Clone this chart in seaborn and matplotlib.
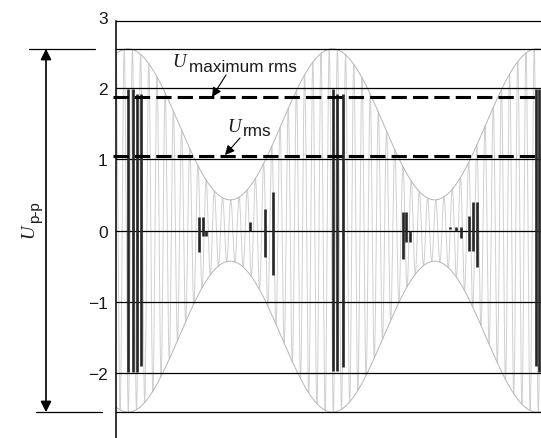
import numpy as np
import pandas as pd
import matplotlib
matplotlib.use("Agg")
import matplotlib.pyplot as plt
import matplotlib.transforms as mtransforms
import seaborn as sns

# ---------------- data ----------------
y_ticks = [-3, -2, -1, 0, 1, 2, 3]
y_tick_labels = ["\u22123", "\u22122", "\u22121", "0", "1", "2", "3"]
grid_levels = [-2, -1, 0, 1, 2]

u_peak = 2.55            # envelope maximum (half of U p-p)
u_trough = 0.43          # envelope minimum
envelope_peaks_t = [12, 219, 421]
carrier_period = 8.2
u_max_rms = 1.87
u_rms = 1.05
frame_top = 2.94

burst_t = [12, 17, 21, 25, 217, 221, 227, 420, 423]
burst_top = [1.99, 1.99, 1.92, 1.92, 1.99, 1.92, 1.92, 1.99, 1.99]
burst_bottom = [-1.99, -1.99, -1.99, -1.90, -1.97, -1.97, -1.92, -1.90, -1.99]

spike_t = [83, 87, 90, 134, 149, 157, 287, 290, 294, 334, 340, 345, 353, 357, 361]
spike_top = [0.19, 0.19, 0.0, 0.12, 0.30, 0.54, 0.26, 0.26, 0.0, 0.05, 0.05, 0.05, 0.20, 0.40, 0.40]
spike_bottom = [-0.30, -0.08, -0.08, 0.0, -0.37, -0.63, -0.40, -0.16, -0.16, 0.02, -0.01, -0.11, -0.29, -0.29, -0.51]

# ---------------- figure ----------------
W, H = 541, 439
sns.set_theme(style="white")
plt.rcParams["font.family"] = ["Liberation Sans", "DejaVu Sans"]

fig = plt.figure(figsize=(W / 100, H / 100), dpi=100)

# y mapping in pixels: y_px = 231.5 - 71.25*y
ylo, yhi = -3.3, 3.05
top_px = 231.5 - 71.25 * yhi
bot_px = 231.5 - 71.25 * ylo
ax = fig.add_axes([116 / W, 1 - bot_px / H, 1 - 116 / W, (bot_px - top_px) / H])
ax.set_xlim(0, 425)
ax.set_ylim(ylo, yhi)

# modulated carrier
period = (envelope_peaks_t[-1] - envelope_peaks_t[0]) / (len(envelope_peaks_t) - 1)
mean_amp = (u_peak + u_trough) / 2
mod_amp = (u_peak - u_trough) / 2
t = np.linspace(0, 425, 12000)
env = mean_amp + mod_amp * np.cos(2 * np.pi * (t - envelope_peaks_t[0]) / period)
sig = env * np.cos(2 * np.pi * t / carrier_period)
df = pd.DataFrame({"t": t, "sig": sig, "env_hi": env, "env_lo": -env})
sns.lineplot(data=df, x="t", y="sig", ax=ax, color="#d0d0d0", lw=0.7,
             estimator=None, sort=False, zorder=1)
sns.lineplot(data=df, x="t", y="env_hi", ax=ax, color="#b5b5b5", lw=0.7,
             estimator=None, zorder=1.2)
sns.lineplot(data=df, x="t", y="env_lo", ax=ax, color="#b5b5b5", lw=0.7,
             estimator=None, zorder=1.2)

# horizontal reference lines
for g in grid_levels:
    ax.axhline(g, color="black", lw=0.9, zorder=2)
for g in (u_peak, -u_peak, frame_top):
    ax.axhline(g, color="black", lw=0.9, zorder=2)

# dashed rms lines
for g in (u_max_rms, u_rms):
    ax.plot([-3, 425], [g, g], color="black", lw=2.2, ls=(0, (5, 2)),
            clip_on=False, zorder=4)

# bursts
ax.vlines(burst_t, burst_bottom, burst_top, color="#262626", lw=1.9, zorder=3)
ax.vlines(spike_t, spike_bottom, spike_top, color="#262626", lw=1.9, zorder=3)

# axes styling
ax.set_yticks(y_ticks)
ax.set_yticklabels(y_tick_labels)
ax.set_xticks([])
ax.tick_params(axis="y", length=0, pad=6, labelsize=12.5, colors="#1a1a1a")
ax.set_xlabel("")
ax.set_ylabel("")
for s in ("top", "right", "bottom"):
    ax.spines[s].set_visible(False)
ax.spines["left"].set_bounds(ylo, frame_top)
ax.spines["left"].set_color("black")
ax.spines["left"].set_linewidth(1.1)

# outside lines + double arrow
blend = mtransforms.blended_transform_factory(ax.transAxes, ax.transData)
def axfrac(px):
    return (px - 116) / 425
ax.plot([axfrac(29), axfrac(95)], [u_peak, u_peak], color="black", lw=0.9,
        transform=blend, clip_on=False)
ax.plot([axfrac(36), axfrac(102)], [-u_peak, -u_peak], color="black", lw=0.9,
        transform=blend, clip_on=False)
ax.annotate("", xy=(axfrac(46), -u_peak), xytext=(axfrac(46), u_peak),
            xycoords=blend, textcoords=blend, annotation_clip=False,
            arrowprops=dict(arrowstyle="<|-|>", color="black", lw=1.2,
                            mutation_scale=16, shrinkA=0, shrinkB=0))

def fp(x, y):
    return (x / W, 1 - y / H)

serif_it = dict(family=["Liberation Serif", "DejaVu Serif"], style="italic")
sans = dict(family=["Liberation Sans", "DejaVu Sans"])

# U p-p label (rotated)
fig.text(*fp(33, 238), "U", rotation=90, rotation_mode="anchor", ha="left",
         va="baseline", fontsize=13.5, color="#1a1a1a", **serif_it)
fig.text(*fp(39, 223), "p-p", rotation=90, rotation_mode="anchor", ha="left",
         va="baseline", fontsize=11, color="#1a1a1a", **sans)

# U maximum rms
fig.text(*fp(172, 67), "U", ha="left", va="baseline", fontsize=13.5,
         color="#1a1a1a", **serif_it)
fig.text(*fp(189, 72), "maximum rms", ha="left", va="baseline", fontsize=12.3,
         color="#1a1a1a", **sans)
# U rms
fig.text(*fp(227, 132), "U", ha="left", va="baseline", fontsize=13.5,
         color="#1a1a1a", **serif_it)
fig.text(*fp(243, 136), "rms", ha="left", va="baseline", fontsize=12.3,
         color="#1a1a1a", **sans)

arrow_kw = dict(arrowstyle="-|>", color="black", lw=0.8, mutation_scale=14,
                shrinkA=0, shrinkB=0)
ax.annotate("", xy=fp(212, 98), xytext=fp(226, 76), xycoords="figure fraction",
            textcoords="figure fraction", arrowprops=arrow_kw, annotation_clip=False)
ax.annotate("", xy=fp(225, 156), xytext=fp(240, 139), xycoords="figure fraction",
            textcoords="figure fraction", arrowprops=arrow_kw, annotation_clip=False)

fig.savefig("out.png", dpi=100)
